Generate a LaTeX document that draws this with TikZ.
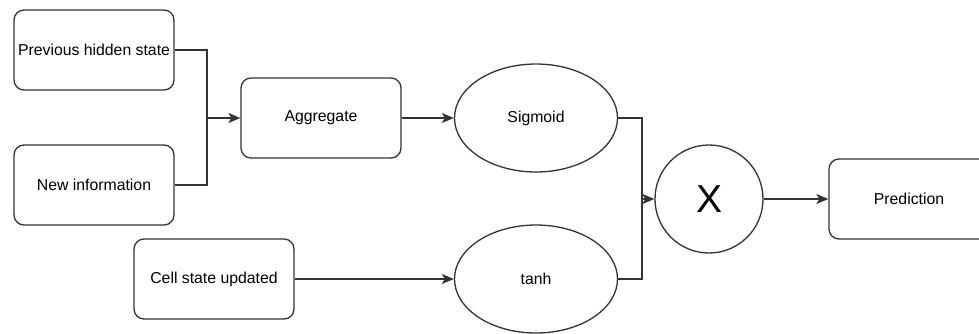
\documentclass[tikz,border=0pt]{standalone}
\usepackage{fontspec}
\setmainfont{Liberation Sans}
\usetikzlibrary{shapes.geometric,arrows.meta}
\tikzset{
  boxnode/.style={draw=black!80,line width=1.3pt,rounded corners=10pt,
    minimum width=160pt,minimum height=80pt,inner sep=0pt,
    font=\fontsize{15.8}{18}\selectfont},
  ovalnode/.style={draw=black!80,line width=1.3pt,ellipse,
    minimum width=163pt,minimum height=108pt,inner sep=0pt,
    font=\fontsize{15.8}{18}\selectfont},
  link/.style={draw=black!80,line width=1.3pt},
  arrowlink/.style={link,-{Stealth[length=12pt,width=10pt,inset=3pt]}}
}
\begin{document}
\begin{tikzpicture}[x=1pt,y=-1pt]
\useasboundingbox (0,0) rectangle (979,333);
% inputs
\node[boxnode] (prevstate) at (94,50) {Previous hidden state};
\node[boxnode] (newinfo) at (94,185) {New information};
\node[boxnode] (cellstate) at (214,279) {Cell state updated};
% gates
\node[boxnode] (aggregate) at (321,118) {Aggregate};
\node[ovalnode] (sigmoid) at (536,118) {Sigmoid};
\node[ovalnode] (tanhgate) at (536,279) {tanh};
\node[draw=black!80,line width=1.3pt,circle,minimum size=108pt,inner sep=0pt,
  font=\fontsize{39}{45}\selectfont] (multiply) at (709,199) {X};
\node[boxnode] (prediction) at (909,199) {Prediction};
% joints
\coordinate (joinin) at (207,118);
\coordinate (joinmul) at (642,199);

\draw[link] (prevstate.east) -| (joinin);
\draw[link] (newinfo.east) -| (joinin);
\draw[arrowlink] (joinin) -- (aggregate.west);
\draw[arrowlink] (aggregate.east) -- (sigmoid.west);
\draw[arrowlink] (cellstate.east) -- (tanhgate.west);
\draw[link] (sigmoid.east) -| (joinmul);
\draw[link] (tanhgate.east) -| (joinmul);
\draw[arrowlink] (joinmul) -- (multiply.west);
\draw[arrowlink] (multiply.east) -- (prediction.west);
\end{tikzpicture}
\end{document}
